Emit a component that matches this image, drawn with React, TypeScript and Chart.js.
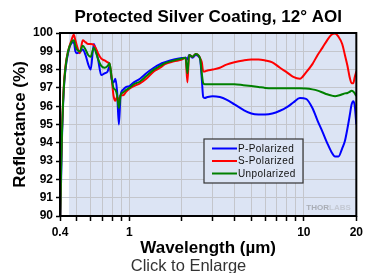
import React, { useEffect, useRef } from 'react';
import { Chart, registerables } from 'chart.js';

Chart.register(...registerables);

// ---- Data (wavelength in µm, reflectance in %) ----
const wavelengths = [
  0.40, 0.405, 0.41, 0.42, 0.43, 0.445, 0.465, 0.48, 0.49, 0.50, 0.52, 0.54, 0.56, 0.58, 0.60, 0.625,
  0.64, 0.66, 0.69, 0.72, 0.75, 0.77, 0.79, 0.81, 0.83, 0.85, 0.87, 0.89, 0.92, 0.96, 1.0, 1.06,
  1.15, 1.25, 1.38, 1.5, 1.6, 1.8, 2.0, 2.1, 2.15, 2.2, 2.3, 2.4, 2.5, 2.55, 2.6, 2.65,
  2.7, 2.8, 3.0, 3.3, 3.6, 4.0, 4.5, 5.0, 5.5, 6.0, 6.6, 7.3, 8.0, 8.7, 9.5, 10.3,
  11.2, 12.0, 12.8, 13.6, 14.4, 15.1, 15.8, 16.6, 17.2, 17.8, 18.3, 18.8, 19.2, 19.6, 20.0,
];

const pPolarized = [
  89.0, 91.5, 94.0, 96.8, 98.0, 98.9, 99.45, 99.5, 99.0, 98.9, 98.95, 99.1, 98.8, 98.3, 98.0, 99.4,
  99.1, 98.6, 97.7, 97.8, 97.9, 98.2, 97.5, 97.3, 97.5, 96.8, 95.0, 96.6, 96.9, 97.05, 97.1, 97.3,
  97.5, 97.8, 98.1, 98.3, 98.4, 98.55, 98.63, 98.65, 98.55, 98.8, 98.65, 98.8, 98.7, 98.5, 97.5, 96.5,
  96.45, 96.5, 96.55, 96.5, 96.36, 96.1, 95.8, 95.6, 95.55, 95.55, 95.6, 95.75, 95.95, 96.2, 96.45, 96.4,
  95.9, 95.2, 94.6, 94.0, 93.5, 93.25, 93.25, 93.7, 94.1, 94.8, 95.45, 96.1, 96.27, 96.0, 95.0,
];

const sPolarized = [
  89.0, 92.5, 94.5, 97.0, 98.2, 99.0, 99.6, 99.9, 99.6, 99.3, 98.9, 99.6, 99.5, 99.4, 99.4, 99.35,
  99.2, 98.9, 98.6, 98.5, 98.4, 98.3, 97.6, 96.6, 96.3, 96.5, 96.3, 96.6, 96.6, 96.8, 96.95, 97.1,
  97.25, 97.5, 97.9, 98.1, 98.3, 98.45, 98.55, 98.65, 97.3, 98.8, 98.7, 98.85, 98.75, 98.6, 98.4, 97.9,
  97.9, 97.95, 98.0, 98.1, 98.27, 98.4, 98.5, 98.55, 98.55, 98.5, 98.4, 98.1, 97.85, 97.6, 97.5, 97.85,
  98.3, 98.8, 99.2, 99.6, 99.9, 99.97, 99.8, 99.4, 98.8, 98.2, 97.6, 97.25, 97.25, 97.6, 97.9,
];

const unpolarized = [
  89.0, 92.0, 94.3, 96.9, 98.1, 99.0, 99.5, 99.6, 99.3, 99.1, 99.0, 99.3, 99.1, 98.8, 98.7, 99.2,
  99.0, 98.6, 98.2, 98.1, 98.2, 98.35, 97.6, 97.0, 96.9, 96.6, 95.9, 96.6, 96.75, 96.9, 97.0, 97.2,
  97.35, 97.65, 98.0, 98.2, 98.35, 98.5, 98.6, 98.65, 97.8, 98.8, 98.7, 98.85, 98.75, 98.55, 97.8, 97.25,
  97.2, 97.2, 97.2, 97.2, 97.2, 97.2, 97.15, 97.1, 97.05, 97.0, 96.98, 96.98, 96.98, 96.98, 96.98, 96.97,
  96.92, 96.85, 96.75, 96.65, 96.58, 96.55, 96.58, 96.65, 96.7, 96.72, 96.78, 96.85, 96.8, 96.7, 96.55,
];

const seriesNames = ['P-Polarized', 'S-Polarized', 'Unpolarized'];
const seriesColors = ['#0000ff', '#ff0000', '#008000'];
const xTickValues = [0.4, 0.5, 0.6, 0.7, 0.8, 0.9, 1, 2, 3, 4, 5, 6, 7, 8, 9, 10, 20];
const xTickLabels = [0.4, 1, 10, 20];
const titleText = 'Protected Silver Coating, 12° AOI';
const xTitle = 'Wavelength (µm)';
const yTitle = 'Reflectance (%)';
const footerText = 'Click to Enlarge';
const shadeStart = 0.45;

const BG = '#dce4f4';
const FONT = '"Liberation Sans", Arial, sans-serif';

const decorPlugin = {
  id: 'decor',
  beforeDraw(chart: any) {
    const { ctx, chartArea: a, scales } = chart;
    ctx.save();
    ctx.fillStyle = '#ffffff';
    ctx.fillRect(0, 0, chart.width, chart.height);
    const xs = scales.x.getPixelForValue(shadeStart);
    ctx.fillStyle = BG;
    ctx.fillRect(xs, a.top, a.right - xs, a.bottom - a.top);
    ctx.restore();
  },
  afterDatasetsDraw(chart: any) {
    const { ctx, chartArea: a } = chart;
    ctx.save();
    // watermark
    ctx.font = `bold 8px ${FONT}`;
    ctx.textBaseline = 'middle';
    ctx.textAlign = 'left';
    ctx.fillStyle = '#a9adb5';
    const wx = a.right - 50;
    ctx.fillText('THOR', wx, a.bottom - 8);
    const tw = ctx.measureText('THOR').width;
    ctx.fillStyle = '#c4c9d3';
    ctx.fillText('LABS', wx + tw, a.bottom - 8);

    // legend box
    const lx = a.left + 144;
    const ly = a.top + 106;
    const lw = 99;
    const lh = 44;
    ctx.fillStyle = BG;
    ctx.fillRect(lx, ly, lw, lh);
    ctx.strokeStyle = '#333333';
    ctx.lineWidth = 1.2;
    ctx.strokeRect(lx, ly, lw, lh);
    ctx.font = `10px ${FONT}`;
    (ctx as any).letterSpacing = '0.4px';
    ctx.textBaseline = 'middle';
    seriesNames.forEach((name, i) => {
      const y = ly + 9.5 + i * 12.5;
      ctx.strokeStyle = seriesColors[i];
      ctx.lineWidth = 2;
      ctx.beginPath();
      ctx.moveTo(lx + 8, y);
      ctx.lineTo(lx + 33, y);
      ctx.stroke();
      ctx.fillStyle = '#111111';
      ctx.fillText(name, lx + 34, y + 0.5);
    });
    (ctx as any).letterSpacing = '0px';

    // frame
    ctx.strokeStyle = '#000000';
    ctx.lineWidth = 2;
    ctx.strokeRect(a.left, a.top, a.right - a.left, a.bottom - a.top);
    ctx.restore();
  },
  afterDraw(chart: any) {
    const { ctx, chartArea: a } = chart;
    const cx = (a.left + a.right) / 2;
    ctx.save();
    ctx.fillStyle = '#000000';
    ctx.textAlign = 'center';
    ctx.textBaseline = 'alphabetic';
    ctx.font = `bold 17px ${FONT}`;
    ctx.fillText(titleText, cx, 22);
    ctx.fillText(xTitle, cx, 253);
    ctx.save();
    ctx.translate(25, (a.top + a.bottom) / 2);
    ctx.rotate(-Math.PI / 2);
    ctx.fillText(yTitle, 0, 0);
    ctx.restore();
    ctx.font = `16.5px ${FONT}`;
    ctx.fillStyle = '#333333';
    ctx.fillText(footerText, 188.5, 271);
    ctx.restore();
  },
};

export default function App() {
  const canvasRef = useRef<HTMLCanvasElement | null>(null);

  useEffect(() => {
    if (!canvasRef.current) return;
    const makeData = (vals: number[]) => wavelengths.map((w, i) => ({ x: w, y: vals[i] }));
    const chart = new Chart(canvasRef.current, {
      type: 'line',
      data: {
        datasets: [
          { label: seriesNames[0], data: makeData(pPolarized), borderColor: seriesColors[0], order: 3 },
          { label: seriesNames[1], data: makeData(sPolarized), borderColor: seriesColors[1], order: 2 },
          { label: seriesNames[2], data: makeData(unpolarized), borderColor: seriesColors[2], order: 1 },
        ].map((d) => ({
          ...d,
          borderWidth: 2,
          pointRadius: 0,
          fill: false,
          cubicInterpolationMode: 'monotone' as const,
        })),
      },
      options: {
        responsive: false,
        animation: false,
        layout: { padding: { top: 33, right: 7, bottom: 0, left: 0 } },
        plugins: {
          legend: { display: false },
          title: { display: false },
          tooltip: { enabled: false },
        },
        scales: {
          x: {
            type: 'logarithmic',
            min: 0.4,
            max: 20,
            afterBuildTicks: (scale: any) => {
              scale.ticks = xTickValues.map((v) => ({ value: v }));
            },
            afterFit: (scale: any) => {
              scale.height = 57;
            },
            border: { display: false },
            grid: { color: '#c4c6cc', lineWidth: 1, tickColor: '#000000', tickLength: 5, tickWidth: 1.5 },
            ticks: {
              autoSkip: false,
              maxRotation: 0,
              minRotation: 0,
              padding: 4,
              color: '#000000',
              font: { family: FONT, size: 12, weight: 'bold' },
              callback: (value: any) => (xTickLabels.includes(value) ? String(value) : ''),
            },
          },
          y: {
            min: 90,
            max: 100,
            afterFit: (scale: any) => {
              scale.width = 60;
            },
            border: { display: false },
            grid: { color: '#c4c6cc', lineWidth: 1, tickColor: '#000000', tickLength: 4, tickWidth: 1.5 },
            ticks: {
              stepSize: 0.5,
              padding: 3,
              color: '#000000',
              font: { family: FONT, size: 12, weight: 'bold' },
              callback: (value: any) => (Number(value) % 1 === 0 ? String(value) : ''),
            },
          },
        },
      },
      plugins: [decorPlugin],
    });
    return () => chart.destroy();
  }, []);

  return (
    <div style={{ position: 'fixed', left: 0, top: 0, width: 367, height: 273, background: '#fff' }}>
      <canvas ref={canvasRef} width={367} height={273} style={{ display: 'block' }} />
    </div>
  );
}
